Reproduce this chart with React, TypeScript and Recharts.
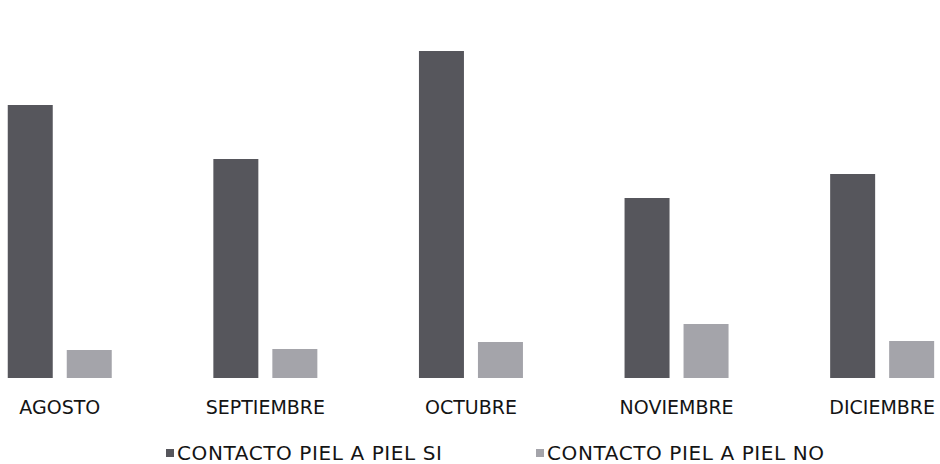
import { Bar, BarChart, XAxis, YAxis } from "recharts";

const months = ["AGOSTO", "SEPTIEMBRE", "OCTUBRE", "NOVIEMBRE", "DICIEMBRE"];
const pielSi = [91, 73, 109, 60, 68];
const pielNo = [9.3, 9.7, 12, 18, 12.3];
const seriesNames = ["CONTACTO PIEL A PIEL SI", "CONTACTO PIEL A PIEL NO"];
const seriesColors = ["#56565c", "#a4a4aa"];

const data = months.map((m, i) => ({ month: m, si: pielSi[i], no: pielNo[i] }));

const font = "'DejaVu Sans', sans-serif";

export default function App() {
  return (
    <div style={{ position: "absolute", left: 0, top: 0, width: 940, height: 464, overflow: "hidden", background: "#fff", fontFamily: font }}>
      <div style={{ position: "absolute", left: -43, top: 0 }}>
        <BarChart width={1028} height={464} data={data} margin={{ top: 18, right: 0, bottom: 56, left: 0 }} barGap={14} barCategoryGap={50.75}>
          <XAxis
            dataKey="month"
            axisLine={false}
            tickLine={false}
            height={30}
            tickMargin={17}
            interval={0}
            tick={{ fill: "#141414", fontSize: 19, fontFamily: font }}
          />
          <YAxis hide domain={[0, 120]} />
          <Bar dataKey="si" fill={seriesColors[0]} isAnimationActive={false} />
          <Bar dataKey="no" fill={seriesColors[1]} isAnimationActive={false} />
        </BarChart>
      </div>
      <div style={{ position: "absolute", left: 166, top: 442, display: "flex", color: "#141414", fontSize: 20, letterSpacing: 0.6, lineHeight: "22px" }}>
        {seriesNames.map((name, i) => (
          <div key={name} style={{ display: "flex", alignItems: "center", width: i === 0 ? 370 : "auto" }}>
            <span style={{ display: "inline-block", width: 8, height: 8, background: seriesColors[i], marginRight: 3 }} />
            <span>{name}</span>
          </div>
        ))}
      </div>
    </div>
  );
}
